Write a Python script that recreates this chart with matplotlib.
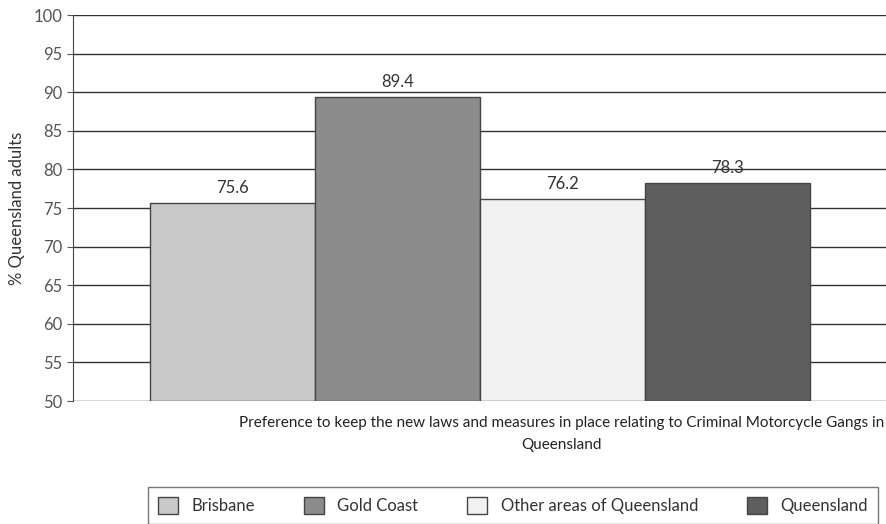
import matplotlib.pyplot as plt
import numpy as np

plt.rcParams['font.family'] = ['Lato', 'DejaVu Sans']

regions = ["Brisbane", "Gold Coast", "Other areas of Queensland", "Queensland"]
values = [75.6, 89.4, 76.2, 78.3]
colors = ["#c9c9c9", "#8c8c8c", "#f1f1f1", "#5e5e5e"]
yticks = list(range(50, 101, 5))
xlabel = ("Preference to keep the new laws and measures in place relating to Criminal Motorcycle Gangs in\n"
          "Queensland")

fig = plt.figure(figsize=(8.87, 5.24), dpi=100)
ax = fig.add_axes([73 / 887, 1 - 401 / 524, 1 - 73 / 887, (401 - 15) / 524])

width = 165 / 814
offsets = (np.arange(len(regions)) - 1.5) * width
base = 50
for i, (name, val) in enumerate(zip(regions, values)):
    ax.bar(0.4 + offsets[i], val - base, bottom=base, width=width,
           color=colors[i], edgecolor="#444444", linewidth=1.0, label=name,
           zorder=3)
    ax.text(0.4 + offsets[i], val + 0.9, f"{val:.1f}", ha="center", va="bottom",
            fontsize=12, color="#333333", zorder=4)

ax.set_xlim(-0.1, 0.9)
ax.set_ylim(50, 100)
ax.set_yticks(yticks)
ax.tick_params(axis="y", labelsize=12, labelcolor="#555555", color="#555555",
               length=4, direction="out")
ax.set_xticks([])
ax.yaxis.grid(True, color="#333333", linewidth=1.0)
ax.set_axisbelow(True)
for side in ["top", "right", "bottom"]:
    ax.spines[side].set_visible(False)
ax.spines["left"].set_color("#444444")
ax.set_ylabel("% Queensland adults", fontsize=12, color="#333333", labelpad=6)

fig.text(562 / 887, 1 - 434 / 524, xlabel, ha="center", va="center",
         fontsize=11, color="#222222", linespacing=1.75)

leg = fig.legend(loc="upper center", bbox_to_anchor=(513 / 887, 1 - 487 / 524),
                 ncol=4, frameon=True, fontsize=12, handlelength=1.2,
                 handleheight=1.2, handletextpad=0.8, columnspacing=2.95,
                 borderpad=0.6, borderaxespad=0, fancybox=False,
                 labelcolor="#333333")
leg.get_frame().set_edgecolor("#555555")
leg.get_frame().set_linewidth(1.0)

fig.savefig("out.png", dpi=100)
